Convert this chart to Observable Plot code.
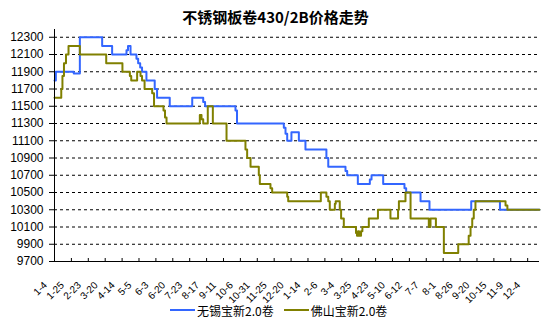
<!DOCTYPE html>
<html><head><meta charset="utf-8">
<script src="https://cdn.jsdelivr.net/npm/d3@7"></script>
<script src="https://cdn.jsdelivr.net/npm/@observablehq/plot@0.6"></script>
<style>
body{margin:0;background:#fff;}
#wrap{position:relative;width:551px;height:327px;overflow:hidden;}
#title{position:absolute;left:0;top:7px;width:551px;text-align:center;font-family:"Noto Sans CJK SC";font-weight:bold;font-size:15px;line-height:20px;color:#000;}
#legend{position:absolute;left:170px;top:301px;height:18px;display:flex;align-items:center;font-family:"Noto Sans CJK SC";font-size:12px;color:#000;white-space:nowrap;}
.sw{display:inline-block;width:25px;height:2px;margin-right:2px;}
</style>
</head><body>
<div id="wrap"><div id="chart"></div><div id="title"></div><div id="legend"></div></div>
<script>
const titleText = "不锈钢板卷430/2B价格走势";
const seriesNames = ["无锡宝新2.0卷", "佛山宝新2.0卷"];
const seriesColors = ["#3366FF", "#808000"];
const tickLabels = ["1-4","1-25","2-23","3-20","4-14","5-5","6-3","6-20","7-23","8-17","9-11","10-6","10-31","11-25","12-20","1-14","2-6","3-4","3-25","4-23","5-10","6-12","7-7","8-1","8-26","9-20","10-15","11-9","12-4"];
const yTicks = [9700,9900,10100,10300,10500,10700,10900,11100,11300,11500,11700,11900,12100,12300];
// [position on category axis (tick units), price]
const wuxi = [[0,11800],[0.08,11900],[1.14,11880],[1.50,12300],[2.82,12200],[3.41,12100],[4.26,12150],[4.35,12200],[4.50,12100],[4.85,12050],[4.95,12000],[5.07,11950],[5.18,11900],[5.44,11800],[5.93,11700],[6.07,11600],[6.82,11500],[8.15,11600],[8.80,11550],[8.91,11500],[10.71,11450],[10.80,11300],[13.57,11250],[13.67,11180],[13.77,11100],[14.02,11200],[14.46,11100],[14.85,11000],[16.09,10900],[16.20,10800],[17.22,10750],[17.32,10700],[17.95,10600],[18.66,10650],[18.76,10700],[19.45,10600],[20.71,10550],[20.81,10500],[21.66,10400],[22.19,10300],[24.66,10400],[26.36,10300],[28.70,10300]];
const foshan = [[0,11600],[0.40,11700],[0.47,11850],[0.56,12000],[0.68,12100],[0.83,12200],[1.50,12100],[3.06,12000],[4.02,11900],[4.46,11850],[4.54,11800],[4.89,11900],[5.09,11850],[5.18,11800],[5.33,11700],[5.78,11650],[5.89,11500],[6.45,11450],[6.54,11370],[6.63,11300],[8.60,11400],[8.70,11350],[8.80,11300],[9.07,11500],[9.37,11300],[10.18,11100],[11.30,11000],[11.40,10900],[11.60,10800],[12.09,10700],[12.15,10600],[12.78,10550],[12.88,10500],[13.77,10450],[13.83,10400],[15.76,10500],[16.09,10450],[16.20,10400],[16.29,10300],[16.59,10370],[16.64,10400],[16.88,10300],[16.96,10200],[17.12,10100],[17.84,10030],[17.90,10000],[17.96,10050],[18.02,10000],[18.14,10050],[18.22,10100],[18.60,10200],[19.14,10300],[19.88,10200],[20.33,10300],[20.38,10400],[20.77,10500],[21.07,10200],[22.15,10100],[22.25,10200],[22.57,10100],[23.04,9800],[23.89,9900],[24.51,10000],[24.62,10100],[24.72,10200],[24.81,10300],[24.91,10400],[26.69,10350],[26.80,10300],[28.70,10300]];

const W = 551, H = 327, mL = 54, mR = 12, mT = 29, mB = 66;
const xMax = 28.7, yMin = 9700, yMax = 12390;
const toRows = (arr) => arr.map(([t, v]) => ({t, v}));

const chart = Plot.plot({
  width: W, height: H,
  marginLeft: mL, marginRight: mR, marginTop: mT, marginBottom: mB,
  x: {domain: [0, xMax], axis: null},
  y: {domain: [yMin, yMax]},
  style: {fontFamily: "Liberation Sans, Arial, sans-serif", background: "white", color: "black"},
  marks: [
    Plot.ruleY(yTicks.slice(1), {stroke: "#000", strokeWidth: 1, strokeDasharray: "3,3"}),
    Plot.line(toRows(wuxi), {x: "t", y: "v", curve: "step-after", stroke: seriesColors[0], strokeWidth: 2}),
    Plot.line(toRows(foshan), {x: "t", y: "v", curve: "step-after", stroke: seriesColors[1], strokeWidth: 2}),
    Plot.ruleX([0], {stroke: "#000"}),
    Plot.ruleY([yMin], {stroke: "#000"}),
    Plot.axisY({ticks: yTicks, tickSize: 5, tickPadding: 6, fontSize: 12, tickFormat: d => String(d), label: null}),
    Plot.ruleX(d3.range(tickLabels.length), {x: d => d, stroke: "#000", insetTop: (H - mT - mB) - 3}),
    Plot.text(tickLabels, {x: (d, i) => i, y: () => yMin, text: d => d, rotate: -45, textAnchor: "end", dx: -9, dy: 22, fontSize: 10, fill: "#000"})
  ]
});
document.getElementById("chart").appendChild(chart);
document.getElementById("title").textContent = titleText;
const lg = document.getElementById("legend");
seriesNames.forEach((n, i) => {
  const sw = document.createElement("span");
  sw.className = "sw";
  sw.style.background = seriesColors[i];
  if (i > 0) sw.style.marginLeft = "10px";
  lg.appendChild(sw);
  const tx = document.createElement("span");
  tx.textContent = n;
  lg.appendChild(tx);
});
</script>
</body></html>
